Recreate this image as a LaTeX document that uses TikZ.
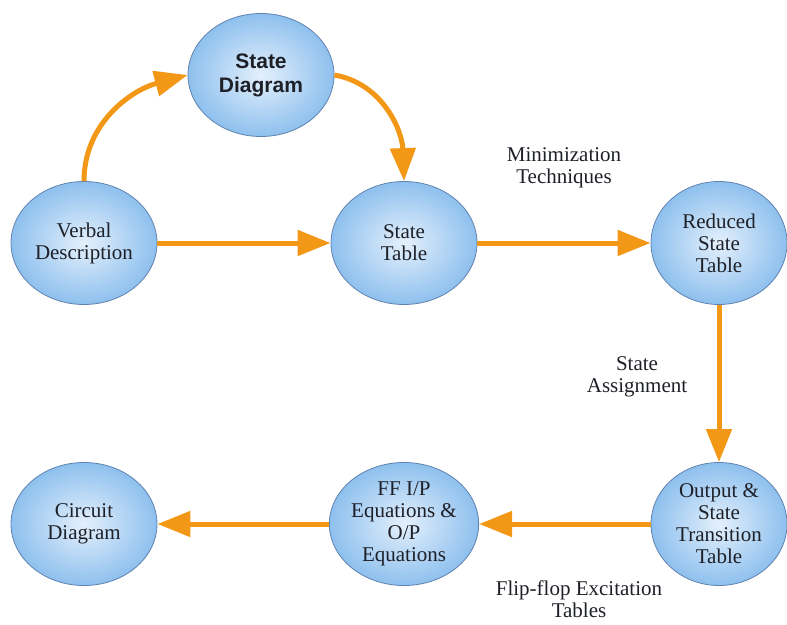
\documentclass[tikz,border=0pt]{standalone}
\usepackage{fontspec}
\setmainfont{Liberation Serif}
\newfontfamily\headsans{Liberation Sans}
\usetikzlibrary{shapes.geometric,arrows.meta}

\definecolor{flowarrow}{RGB}{243,152,22}
\definecolor{bubbleedge}{RGB}{96,130,175}
\definecolor{bubbleinner}{RGB}{228,240,252}
\definecolor{bubbleouter}{RGB}{142,192,238}
\definecolor{inktext}{RGB}{30,32,40}

\begin{document}
\begin{tikzpicture}[x=1pt, y=-1pt,
    bubble/.style={ellipse, draw=bubbleedge, line width=0.8pt,
        inner color=bubbleinner, outer color=bubbleouter,
        minimum width=146pt, minimum height=123pt, inner sep=0pt,
        align=center, text=inktext,
        font=\fontsize{21}{22}\selectfont},
    flow/.style={draw=flowarrow, line width=5pt,
        -{Triangle[length=33pt,width=25pt]}},
    steplabel/.style={align=center, text=inktext,
        font=\fontsize{21}{22}\selectfont}]
    \useasboundingbox (0,0) rectangle (787,624);

    % the six steps
    \node[bubble] (verbal) at (84,243) {Verbal\\Description};
    \node[bubble, font=\headsans\bfseries\fontsize{21}{24}\selectfont] (statediag) at (261,75) {State\\Diagram};
    \node[bubble] (statetab) at (404,243) {State\\Table};
    \node[bubble, minimum width=136pt] (reduced) at (719,243) {Reduced\\State\\Table};
    \node[bubble, minimum width=136pt] (outtab) at (719,524) {Output \&\\State\\Transition\\Table};
    \node[bubble] (ffeq) at (404,524) {FF I/P\\Equations \&\\O/P\\Equations};
    \node[bubble] (circuit) at (84,524) {Circuit\\Diagram};

    % connectors
    \draw[flow] (verbal.north) to[out=90, in=195] (statediag.west);
    \draw[flow] (statediag.east) to[out=-10, in=92] (statetab.north);
    \draw[flow] (verbal.east) -- (statetab.west);
    \draw[flow] (statetab.east) -- (reduced.west);
    \draw[flow] (reduced.south) -- (outtab.north);
    \draw[flow] (outtab.west) -- (ffeq.east);
    \draw[flow] (ffeq.west) -- (circuit.east);

    % labels
    \node[steplabel] (minlabel) at (564,168) {Minimization\\Techniques};
    \node[steplabel] (assignlabel) at (637,377) {State\\Assignment};
    \node[steplabel] (fflabel) at (579,599) {Flip-flop Excitation\\Tables};
\end{tikzpicture}
\end{document}
